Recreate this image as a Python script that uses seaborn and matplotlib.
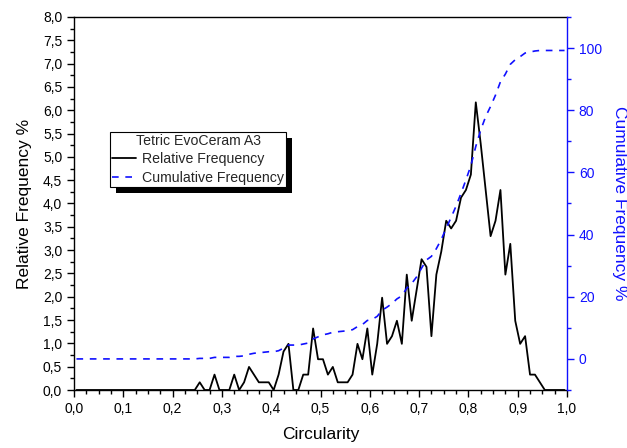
import numpy as np
import pandas as pd
import matplotlib
matplotlib.use("Agg")
import matplotlib.pyplot as plt
from matplotlib.ticker import MultipleLocator, FuncFormatter
from matplotlib.patches import Rectangle
from matplotlib.transforms import IdentityTransform
import seaborn as sns

# Circularity histogram, bins of width 0.01 (bin centres)
circularity = np.round(np.arange(100) * 0.01 + 0.005, 3)

# Relative frequency (%) per bin
relative_frequency = [
    0, 0, 0, 0, 0, 0, 0, 0, 0, 0,
    0, 0, 0, 0, 0, 0, 0, 0, 0, 0,
    0, 0, 0, 0, 0, 0.165, 0, 0, 0.33, 0,
    0, 0, 0.33, 0, 0.165, 0.495, 0.33, 0.165, 0.165, 0.165,
    0, 0.33, 0.825, 0.99, 0, 0, 0.33, 0.33, 1.32, 0.66,
    0.66, 0.33, 0.495, 0.165, 0.165, 0.165, 0.33, 0.99, 0.66, 1.32,
    0.33, 0.99, 1.98, 0.99, 1.155, 1.485, 0.99, 2.475, 1.485, 2.145,
    2.805, 2.64, 1.155, 2.475, 2.97, 3.63, 3.465, 3.63, 4.125, 4.29,
    4.62, 6.17, 5.28, 4.29, 3.30, 3.63, 4.29, 2.475, 3.135, 1.485,
    0.99, 1.155, 0.33, 0.33, 0.165, 0, 0, 0, 0, 0,
]

# Cumulative frequency (%) is the running total of the relative frequency
cumulative_frequency = np.cumsum(relative_frequency)

sample_name = "Tetric EvoCeram A3"
x_label = "Circularity"
left_label = "Relative Frequency %"
right_label = "Cumulative Frequency %"

df = pd.DataFrame({
    "Circularity": circularity,
    "Relative": relative_frequency,
    "Cumulative": cumulative_frequency,
})

sns.set_theme(style="ticks")
plt.rcParams["font.family"] = ["Liberation Sans", "DejaVu Sans"]
plt.rcParams["axes.linewidth"] = 1.0

W, H = 627, 448
fig = plt.figure(figsize=(W / 100, H / 100), dpi=100)
ax = fig.add_axes([74 / W, 1 - 390 / H, 493 / W, 373 / H])
ax2 = ax.twinx()

sns.lineplot(data=df, x="Circularity", y="Relative", ax=ax, color="black",
             linewidth=1.3, legend=False)
sns.lineplot(data=df, x="Circularity", y="Cumulative", ax=ax2, color="#1010ff",
             linewidth=1.2, linestyle=(0, (4, 4)), legend=False)

comma = FuncFormatter(lambda v, p: f"{v:.1f}".replace(".", ","))

ax.set_xlim(0, 1)
ax.set_ylim(0, 8)
ax.xaxis.set_major_locator(MultipleLocator(0.1))
ax.xaxis.set_minor_locator(MultipleLocator(0.025))
ax.yaxis.set_major_locator(MultipleLocator(0.5))
ax.yaxis.set_minor_locator(MultipleLocator(0.25))
ax.xaxis.set_major_formatter(comma)
ax.yaxis.set_major_formatter(comma)
ax.tick_params(which="both", direction="out", colors="black", labelsize=10,
               top=False, right=False)
ax.tick_params(which="major", length=5, width=1)
ax.tick_params(which="minor", length=3, width=1)
ax.spines["right"].set_visible(False)
for s in ("left", "bottom", "top"):
    ax.spines[s].set_color("black")

ax2.set_ylim(-10, 110)
ax2.yaxis.set_major_locator(MultipleLocator(20))
ax2.yaxis.set_minor_locator(MultipleLocator(10))
ax2.yaxis.set_major_formatter(FuncFormatter(lambda v, p: f"{v:.0f}"))
ax2.tick_params(axis="y", which="both", direction="out", colors="#1010ff",
                labelcolor="#1010ff", labelsize=10)
ax2.tick_params(axis="y", which="major", length=5, width=1)
ax2.tick_params(axis="y", which="minor", length=3, width=1)
ax2.spines["right"].set_color("#1010ff")
ax2.spines["left"].set_visible(False)
ax2.spines["top"].set_visible(False)
ax2.spines["bottom"].set_visible(False)

ax.set_xlabel(x_label, fontsize=12.5, color="black", labelpad=8)
ax.set_ylabel(left_label, fontsize=12.5, color="black", labelpad=8)
ax2.set_ylabel(right_label, fontsize=12.5, color="#1010ff", rotation=270,
               labelpad=18)

rel_line = ax.get_lines()[0]
cum_line = ax2.get_lines()[0]
leg = ax2.legend([rel_line, cum_line], ["Relative Frequency", "Cumulative Frequency"],
                 title=sample_name, loc="upper left",
                 bbox_to_anchor=(110 / W, 1 - 132 / H), bbox_transform=fig.transFigure,
                 fancybox=False, framealpha=1, edgecolor="black", fontsize=10.2,
                 title_fontsize=10.2, borderpad=0.15, labelspacing=0.3,
                 handlelength=1.7, handletextpad=0.4, borderaxespad=0)
leg.get_frame().set_linewidth(0.8)
leg.set_zorder(6)

# Solid black drop shadow behind the legend box
fig.canvas.draw()
bb = leg.get_window_extent()
shadow = Rectangle((bb.x0 + 6, bb.y0 - 6), bb.width, bb.height,
                   transform=IdentityTransform(), facecolor="black",
                   edgecolor="none", zorder=5)
ax2.add_artist(shadow)

fig.savefig("out.png", dpi=100)
